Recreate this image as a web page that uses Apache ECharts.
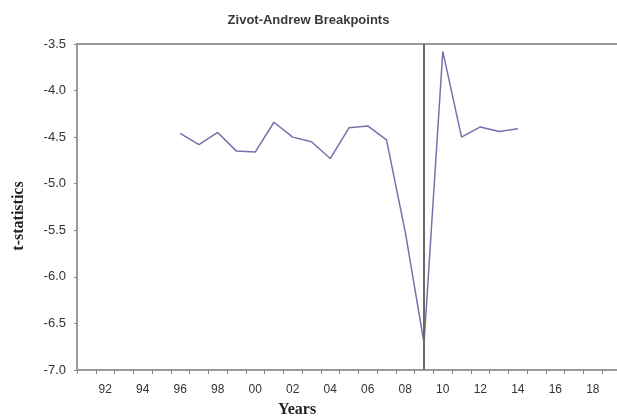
<!DOCTYPE html>
<html>
<head>
<meta charset="utf-8">
<script src="https://cdn.jsdelivr.net/npm/echarts@6/dist/echarts.min.js"></script>
<style>
  html, body { margin: 0; padding: 0; background: #fff; }
  #chart { width: 617px; height: 418px; }
</style>
</head>
<body>
<div id="chart"></div>
<script>
// Annual categories shown on the horizontal axis
var years = [];
for (var y = 1991; y <= 2019; y++) years.push(String(y));

// Zivot-Andrews t-statistic for each candidate break year
var statYears = ['1996','1997','1998','1999','2000','2001','2002','2003','2004','2005',
                 '2006','2007','2008','2009','2010','2011','2012','2013','2014'];
var tStats = [-4.46, -4.58, -4.45, -4.65, -4.66, -4.34, -4.50, -4.55, -4.73, -4.40,
              -4.38, -4.53, -5.52, -6.71, -3.58, -4.50, -4.39, -4.44, -4.41];

// Selected breakpoint
var breakYear = '2009';

// Value ticks on the t-statistic axis
var yMin = -7.0, yMax = -3.5, yStep = 0.5;

var seriesData = years.map(function (yr) {
  var i = statYears.indexOf(yr);
  return i >= 0 ? tStats[i] : null;
});

var chart = echarts.init(document.getElementById('chart'), null, { renderer: 'canvas' });
chart.setOption({
  animation: false,
  backgroundColor: '#ffffff',
  title: {
    text: 'Zivot-Andrew Breakpoints',
    left: 'center',
    top: 9,
    textStyle: { fontFamily: 'Liberation Sans, Arial, sans-serif', fontSize: 13, fontWeight: 'bold', color: '#3a3a3a' }
  },
  grid: {
    left: 77, top: 44, width: 544, height: 326,
    outerBoundsMode: 'none',
    show: true, borderColor: '#9a9a9a', borderWidth: 2, backgroundColor: '#fff'
  },
  xAxis: {
    type: 'category',
    data: years,
    boundaryGap: true,
    axisLine: { lineStyle: { color: '#9a9a9a', width: 2 } },
    axisTick: { show: true, interval: 0, length: 4, lineStyle: { color: '#888' } },
    axisLabel: {
      interval: function (idx, val) { return Number(val) % 2 === 0; },
      formatter: function (val) { return val.slice(2); },
      fontFamily: 'Liberation Sans, Arial, sans-serif',
      fontSize: 12, color: '#333', margin: 14
    },
    splitLine: { show: false }
  },
  yAxis: {
    type: 'value',
    min: yMin, max: yMax, interval: yStep,
    name: 't-statistics',
    nameLocation: 'middle',
    nameGap: 50,
    nameTextStyle: { fontFamily: 'Liberation Serif, Times New Roman, serif', fontSize: 16, fontWeight: 'bold', color: '#222', padding: [0, 18, 0, 0] },
    axisLine: { show: true, lineStyle: { color: '#9a9a9a', width: 2 } },
    axisTick: { show: true, length: 3, lineStyle: { color: '#888' } },
    axisLabel: {
      formatter: function (v) { return v.toFixed(1); },
      fontFamily: 'Liberation Sans, Arial, sans-serif',
      fontSize: 13, color: '#333', margin: 11
    },
    splitLine: { show: false }
  },
  graphic: [{
    type: 'text',
    x: 297, y: 410,
    style: {
      text: 'Years',
      textAlign: 'center', textVerticalAlign: 'middle',
      font: 'bold 16px "Liberation Serif", "Times New Roman", serif',
      fill: '#222'
    }
  }],
  series: [{
    type: 'line',
    data: seriesData,
    connectNulls: false,
    symbol: 'none',
    lineStyle: { color: '#7272ac', width: 1.5 },
    markLine: {
      silent: true,
      symbol: 'none',
      label: { show: false },
      lineStyle: { color: '#6a6a6a', width: 2, type: 'solid' },
      data: [{ xAxis: breakYear }]
    }
  }]
});
</script>
</body>
</html>
